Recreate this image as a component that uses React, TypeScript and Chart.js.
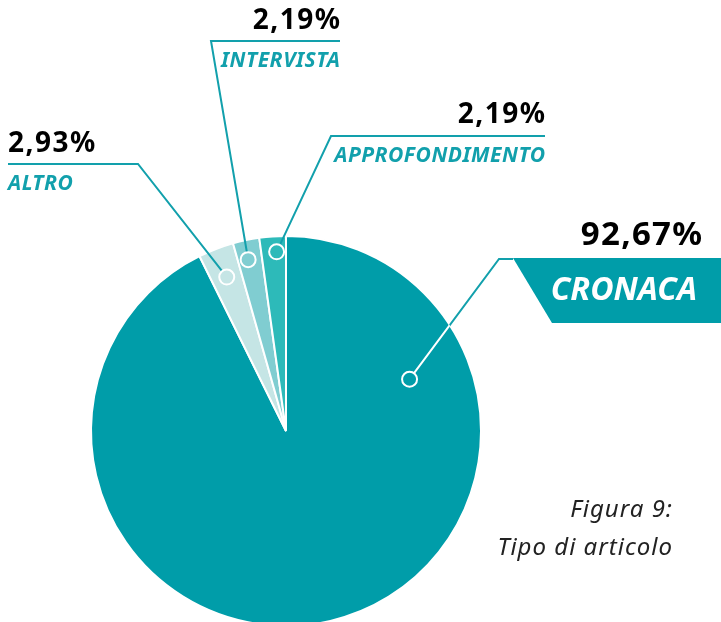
import React, { useEffect, useRef } from "react";
import { Chart, registerables } from "chart.js";

Chart.register(...registerables);

// ---- data ----
const categories = ["CRONACA", "ALTRO", "INTERVISTA", "APPROFONDIMENTO"];
const values = [92.67, 2.93, 2.19, 2.19];
const sliceColors = ["#009DA9", "#C5E5E5", "#80CDD1", "#2DBAB9"];
const captionLines = ["Figura 9:", "Tipo di articolo"];

// ---- callout layout (annotation styling, not data) ----
type Callout = {
  frac: number;
  rFrac: number;
  elbow: [number, number];
  endX: number;
  align: "left" | "right";
  pctBaseline: number;
  nameBaseline: number;
};
const callouts: Callout[] = [
  { frac: 0.2016, rFrac: 0.687, elbow: [499, 259], endX: 513, align: "right", pctBaseline: 245, nameBaseline: 300 },
  { frac: 0.5, rFrac: 0.846, elbow: [138, 164], endX: 8, align: "left", pctBaseline: 152, nameBaseline: 190 },
  { frac: 0.42, rFrac: 0.9, elbow: [211, 41], endX: 340, align: "right", pctBaseline: 29, nameBaseline: 67 },
  { frac: 0.62, rFrac: 0.92, elbow: [331, 136], endX: 545, align: "right", pctBaseline: 123, nameBaseline: 162 },
];

const TEAL = "#12A0AC";
const FONT = '"Noto Sans", sans-serif';

const fmt = (v: number) => v.toFixed(2).replace(".", ",") + "%";

function drawText(
  ctx: CanvasRenderingContext2D,
  text: string,
  x: number,
  y: number,
  align: "left" | "right",
  spacing: number
) {
  (ctx as any).letterSpacing = `${spacing}px`;
  ctx.textAlign = align;
  ctx.fillText(text, align === "right" ? x + spacing : x, y);
  (ctx as any).letterSpacing = "0px";
}

const calloutPlugin = {
  id: "callouts",
  afterDraw(chart: any) {
    const ctx: CanvasRenderingContext2D = chart.ctx;
    const meta = chart.getDatasetMeta(0);
    const arcs = meta.data;
    if (!arcs.length) return;
    const cx = arcs[0].x;
    const cy = arcs[0].y;
    const R = arcs[0].outerRadius;
    const markerR = 7.5;

    ctx.save();
    arcs.forEach((arc: any, i: number) => {
      const c = callouts[i];
      const a = arc.startAngle + (arc.endAngle - arc.startAngle) * c.frac;
      const px = cx + Math.cos(a) * R * c.rFrac;
      const py = cy + Math.sin(a) * R * c.rFrac;
      const [ex, ey] = c.elbow;
      const dx = ex - px;
      const dy = ey - py;
      const len = Math.hypot(dx, dy);
      const sx = px + (dx / len) * markerR;
      const sy = py + (dy / len) * markerR;

      const path = () => {
        ctx.beginPath();
        ctx.moveTo(sx, sy);
        ctx.lineTo(ex, ey);
        ctx.lineTo(c.endX, ey);
      };
      ctx.lineWidth = 2;
      ctx.strokeStyle = TEAL;
      ctx.lineJoin = "miter";
      path();
      ctx.stroke();
      if (i === 0) {
        ctx.save();
        ctx.beginPath();
        ctx.arc(cx, cy, R, 0, Math.PI * 2);
        ctx.clip();
        ctx.strokeStyle = "#ffffff";
        path();
        ctx.stroke();
        ctx.restore();

        ctx.fillStyle = sliceColors[0];
        ctx.beginPath();
        ctx.moveTo(513, 258);
        ctx.lineTo(721, 258);
        ctx.lineTo(721, 323);
        ctx.lineTo(552, 323);
        ctx.closePath();
        ctx.fill();
      }

      ctx.beginPath();
      ctx.arc(px, py, markerR, 0, Math.PI * 2);
      ctx.strokeStyle = "#ffffff";
      ctx.lineWidth = 2;
      ctx.stroke();

      ctx.textBaseline = "alphabetic";
      if (i === 0) {
        ctx.fillStyle = "#000000";
        ctx.font = `bold 33px ${FONT}`;
        drawText(ctx, fmt(values[i]), 702, c.pctBaseline, "right", 1.3);
        ctx.fillStyle = "#ffffff";
        ctx.font = `italic bold 32px ${FONT}`;
        drawText(ctx, categories[i], 697, c.nameBaseline, "right", 0);
      } else {
        ctx.fillStyle = "#000000";
        ctx.font = `bold 28px ${FONT}`;
        drawText(ctx, fmt(values[i]), c.endX, c.pctBaseline, c.align, 1.5);
        ctx.fillStyle = TEAL;
        ctx.font = `italic bold 21px ${FONT}`;
        drawText(ctx, categories[i], c.endX, c.nameBaseline, c.align, 0.5);
      }
    });

    ctx.fillStyle = "#222222";
    ctx.font = `italic 24px ${FONT}`;
    drawText(ctx, captionLines[0], 672, 517, "right", 1);
    drawText(ctx, captionLines[1], 672, 555, "right", 1);
    ctx.restore();
  },
};

export default function App() {
  const ref = useRef<HTMLCanvasElement | null>(null);
  useEffect(() => {
    if (!ref.current) return;
    const chart = new Chart(ref.current, {
      type: "pie",
      data: {
        labels: categories,
        datasets: [
          {
            data: values,
            backgroundColor: sliceColors,
            borderColor: "#ffffff",
            borderWidth: 2,
            hoverOffset: 0,
          },
        ],
      },
      options: {
        responsive: false,
        animation: false,
        radius: 195,
        layout: { padding: { left: 91, right: 240, top: 236, bottom: 34 } },
        plugins: {
          legend: { display: false },
          tooltip: { enabled: false },
          title: { display: false },
        },
      } as any,
      plugins: [calloutPlugin],
    });
    return () => chart.destroy();
  }, []);
  return (
    <div style={{ position: "absolute", left: 0, top: 0, width: 721, height: 622, overflow: "hidden", background: "#fff" }}>
      <canvas ref={ref} width={721} height={660} style={{ width: 721, height: 660, display: "block" }} />
    </div>
  );
}
